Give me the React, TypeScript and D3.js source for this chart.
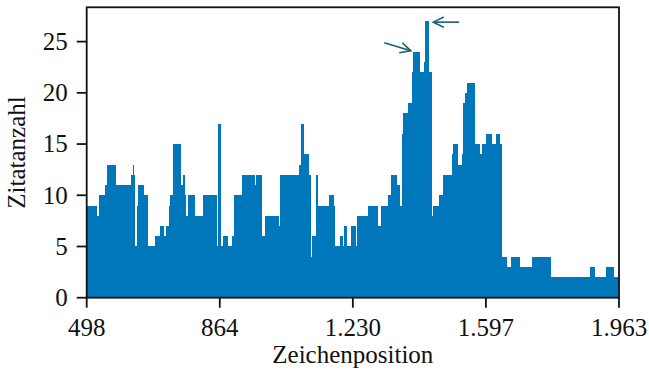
import { useMemo } from 'react';
import * as d3 from 'd3';

// Start position of each run of equal citation count (run ends where the next one starts)
const runStart = [
  498, 526, 532, 548, 553, 578, 620, 626, 628, 631, 636, 640, 656, 667, 686, 700, 711, 716, 724, 728,
  736, 758, 762, 768, 770, 776, 795, 817, 856, 859, 868, 873, 887, 898, 903, 925, 961, 964, 980,
  989, 1027, 1030, 1082, 1088, 1096, 1110, 1115, 1118, 1129, 1134, 1165, 1179, 1181, 1195, 1203, 1206, 1214,
  1225, 1239, 1242, 1272, 1300, 1308, 1327, 1335, 1352, 1360, 1366, 1369, 1382, 1393, 1396, 1415, 1426,
  1429, 1440, 1448, 1451, 1468, 1479, 1503, 1506, 1520, 1531, 1534, 1539, 1545, 1567, 1580, 1586, 1597,
  1613, 1624, 1635, 1641, 1655, 1666, 1690, 1723, 1776, 1883, 1897, 1927, 1949,
];
const citations = [
  9, 8, 10, 11, 13, 11, 12, 13, 12, 5, 9, 11, 10, 5, 6, 7, 6, 7, 9, 10,
  15, 11, 12, 10, 8, 10, 8, 10, 5, 17, 5, 6, 5, 6, 10, 12, 11, 12, 6,
  8, 7, 12, 13, 17, 14, 12, 4, 6, 12, 9, 10, 9, 5, 6, 5, 7, 5,
  7, 5, 8, 9, 7, 9, 10, 12, 11, 9, 16, 18, 19, 22, 24, 22, 23,
  27, 22, 8, 9, 10, 12, 14, 15, 13, 14, 19, 20, 21, 15, 14, 15, 16,
  15, 16, 15, 4, 3, 4, 3, 4, 2, 3, 2, 3, 2,
];
const xEnd = 1963;

const xTickValues = [498, 864.25, 1230.5, 1596.75, 1963];
const xTickLabels = ['498', '864', '1.230', '1.597', '1.963'];
const yTickValues = [0, 5, 10, 15, 20, 25];

// annotation arrows: [tailX, tailY, tipX, tipY] in data units
const arrows = [
  [1317, 24.9, 1390, 24.1],
  [1523, 26.9, 1452, 26.9],
];

const W = 649;
const H = 376;
const left = 86.7;
const right = 619;
const top = 7.3;
const bottom = 297.7;
const barColor = '#0077bb';
const arrowColor = '#17606f';
const font = "'Liberation Serif', 'DejaVu Serif', serif";

export default function App() {
  const x = d3.scaleLinear().domain([498, 1963]).range([left, right]);
  const y = d3.scaleLinear().domain([0, 28.35]).range([bottom, top]);

  const areaPath = useMemo(() => {
    const pts = runStart.map((p, i) => ({ pos: p, count: citations[i] }));
    pts.push({ pos: xEnd, count: citations[citations.length - 1] });
    return d3
      .area<{ pos: number; count: number }>()
      .curve(d3.curveStepAfter)
      .x((d) => x(d.pos))
      .y0(y(0))
      .y1((d) => y(d.count))(pts);
  }, []);

  return (
    <svg
      width={W}
      height={H}
      style={{ position: 'absolute', left: 0, top: 0, fontFamily: font }}
    >
      <defs>
        <marker
          id="head"
          markerUnits="userSpaceOnUse"
          markerWidth={14}
          markerHeight={14}
          refX={11}
          refY={6}
          orient="auto"
        >
          <path d="M0.5,0.8 L11,6 L0.5,11.2" fill="none" stroke={arrowColor} strokeWidth={1.6} />
        </marker>
      </defs>

      <path d={areaPath ?? ''} fill={barColor} shapeRendering="crispEdges" />

      {arrows.map(([x0, y0, x1, y1], i) => (
        <line
          key={i}
          x1={x(x0)}
          y1={y(y0)}
          x2={x(x1)}
          y2={y(y1)}
          stroke={arrowColor}
          strokeWidth={1.6}
          markerEnd="url(#head)"
        />
      ))}

      {/* frame */}
      <rect
        x={left}
        y={top}
        width={right - left}
        height={bottom - top}
        fill="none"
        stroke="#111"
        strokeWidth={1.8}
      />

      {/* x axis */}
      {xTickValues.map((v, i) => (
        <g key={v} transform={`translate(${x(v)},0)`}>
          <line y1={bottom} y2={bottom + 10} stroke="#111" strokeWidth={1.8} />
          <text y={335.5} textAnchor="middle" fontSize={25} fill="#111">
            {xTickLabels[i]}
          </text>
        </g>
      ))}
      <text x={(left + right) / 2} y={363} textAnchor="middle" fontSize={25} fill="#111">
        Zeichenposition
      </text>

      {/* y axis */}
      {yTickValues.map((v) => (
        <g key={v} transform={`translate(0,${y(v)})`}>
          <line x1={left - 10} x2={left} stroke="#111" strokeWidth={1.8} />
          <text x={left - 19} dy="0.33em" textAnchor="end" fontSize={25} fill="#111">
            {v}
          </text>
        </g>
      ))}
      <text
        transform={`translate(24.5,${(top + bottom) / 2}) rotate(-90)`}
        textAnchor="middle"
        fontSize={25}
        fill="#111"
      >
        Zitatanzahl
      </text>
    </svg>
  );
}
